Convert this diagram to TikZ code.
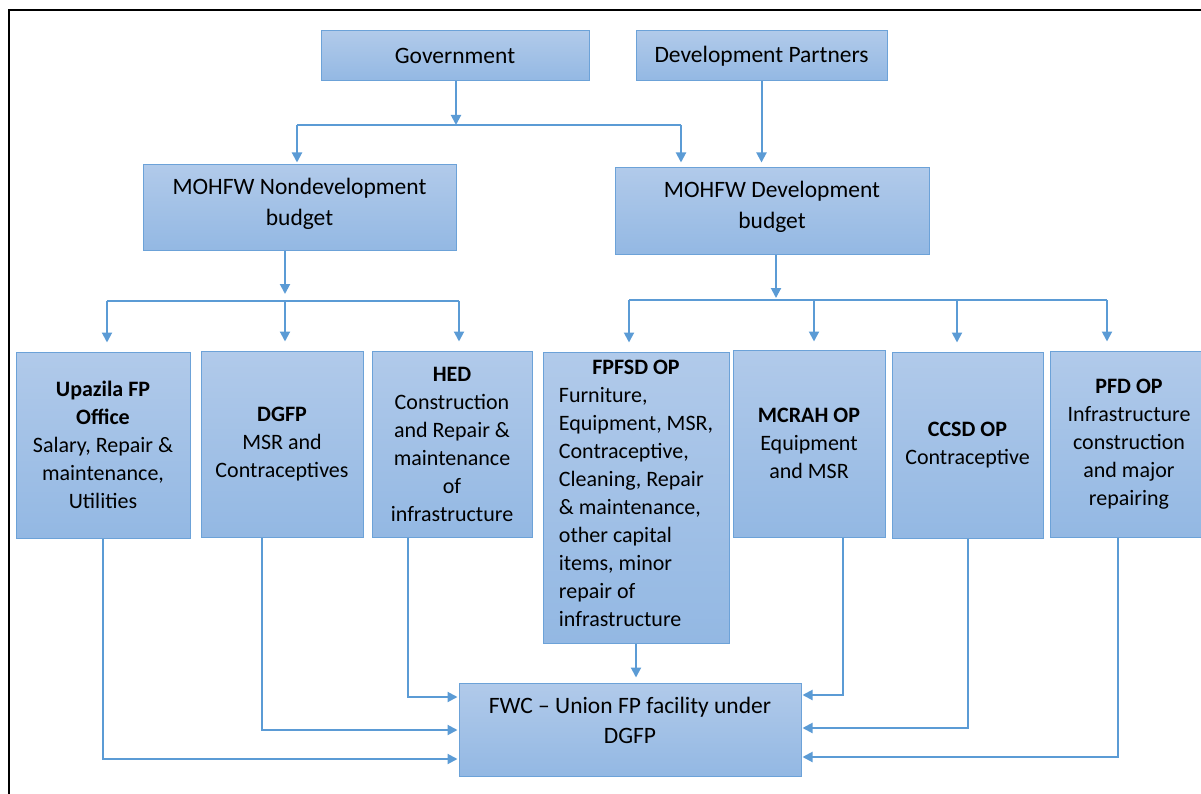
\documentclass[tikz,border=0pt]{standalone}
\usepackage{fontspec}
\setmainfont{Carlito}
\usepackage{tikz}
\usetikzlibrary{arrows.meta, calc}
\definecolor{boxtop}{RGB}{177, 202, 234}
\definecolor{boxbottom}{RGB}{147, 184, 227}
\definecolor{boxedge}{RGB}{108, 162, 216}
\definecolor{flowblue}{RGB}{91, 155, 213}

\tikzset{
    budgetbox/.style={draw=boxedge, line width=1pt, top color=boxtop, bottom color=boxbottom,
        inner sep=0pt, align=center, font=\fontsize{22}{28}\selectfont},
    bigtext/.style={font=\fontsize{23.5}{31}\selectfont},
    flow/.style={draw=flowblue, line width=2pt, -{Triangle[length=10pt, width=10pt]}},
    bus/.style={draw=flowblue, line width=2pt},
}

\begin{document}
\begin{tikzpicture}[x=1pt, y=-1pt]
    \useasboundingbox (0,0) rectangle (1201,794);
    % Frame
    \draw[line width=2.5pt] (9,800) -- (9,10) -- (1210,10);

    % Funding sources
    \node[budgetbox, bigtext, minimum width=268pt, minimum height=50pt] (gov) at (455,56) {Government};
    \node[budgetbox, bigtext, minimum width=251pt, minimum height=50pt] (dp) at (761.5,56) {Development Partners};

    % Ministry budgets
    \node[budgetbox, bigtext, minimum width=313pt, minimum height=86pt, text depth=12pt]
        (nondev) at (299.5,208) {MOHFW Nondevelopment\\budget};
    \node[budgetbox, bigtext, minimum width=314pt, minimum height=87pt, text depth=13pt]
        (dev) at (772,211.5) {MOHFW Development\\budget};

    % Spending units
    \node[budgetbox, minimum width=174pt, minimum height=186pt] (upa) at (103,445)
        {\textbf{Upazila FP}\\\textbf{Office}\\Salary, Repair \&\\maintenance,\\Utilities};
    \node[budgetbox, minimum width=162pt, minimum height=186pt] (dgfp) at (282,444)
        {\textbf{DGFP}\\MSR and\\Contraceptives};
    \node[budgetbox, minimum width=160pt, minimum height=186pt] (hed) at (452,444)
        {\textbf{HED}\\Construction\\and Repair \&\\maintenance\\of\\infrastructure};
    \node[budgetbox, minimum width=186pt, minimum height=291pt] (fpfsd) at (636,497.5)
        {\textbf{FPFSD OP}\\\begin{tabular}[t]{@{}l@{}}Furniture,\\Equipment, MSR,\\Contraceptive,\\Cleaning, Repair\\\& maintenance,\\other capital\\items, minor\\repair of\\infrastructure\end{tabular}};
    \node[budgetbox, minimum width=152pt, minimum height=187pt] (mcrah) at (809,443.5)
        {\textbf{MCRAH OP}\\Equipment\\and MSR};
    \node[budgetbox, minimum width=151pt, minimum height=186pt] (ccsd) at (967.5,445)
        {\textbf{CCSD OP}\\Contraceptive};
    \node[budgetbox, minimum width=158pt, minimum height=186pt] (pfd) at (1129,444)
        {\textbf{PFD OP}\\Infrastructure\\construction\\and major\\repairing};

    % Facility
    \node[budgetbox, minimum width=342pt, minimum height=93pt, font=\fontsize{23.5}{30}\selectfont, text depth=19pt]
        (fwc) at (630,729.5) {FWC -- Union FP facility under\\DGFP};

    % Branch points
    \coordinate (gsplit) at (456,125);
    \coordinate (gleft) at (297,125);
    \coordinate (gright) at (681,125);
    \coordinate (nsplit) at (285,301);
    \coordinate (nleft) at (107,301);
    \coordinate (nright) at (459,301);
    \coordinate (dsplit) at (776,300);
    \coordinate (dleft) at (629,300);
    \coordinate (dmidA) at (814,300);
    \coordinate (dmidB) at (957,300);
    \coordinate (dright) at (1107,300);

    % Sources to budgets
    \draw[flow] (gsplit |- gov.south) -- (gsplit);
    \draw[bus] (gleft) -- (gright);
    \draw[flow, shorten >=2pt] (gleft) -- (gleft |- nondev.north);
    \draw[flow, shorten >=5pt] (gright) -- (gright |- dev.north);
    \draw[flow, shorten >=5pt] (dp.south) -- (dp.south |- dev.north);

    % Nondevelopment budget to units
    \draw[flow, shorten >=7pt] (nsplit |- nondev.south) -- (nsplit);
    \draw[bus] (nleft) -- (nright);
    \draw[flow, shorten >=9pt] (nleft) -- (nleft |- upa.north);
    \draw[flow, shorten >=9pt] (nsplit) -- (nsplit |- dgfp.north);
    \draw[flow, shorten >=9pt] (nright) -- (nright |- hed.north);

    % Development budget to units
    \draw[flow, shorten >=2pt] (dsplit |- dev.south) -- (dsplit);
    \draw[bus] (dleft) -- (dright);
    \draw[flow, shorten >=9pt] (dleft) -- (dleft |- fpfsd.north);
    \draw[flow, shorten >=8pt] (dmidA) -- (dmidA |- mcrah.north);
    \draw[flow, shorten >=9pt] (dmidB) -- (dmidB |- ccsd.north);
    \draw[flow, shorten >=9pt] (dright) -- (dright |- pfd.north);

    % Units to facility
    \coordinate (upaturn) at (103,759);
    \coordinate (dgfpturn) at (262,730);
    \coordinate (hedturn) at (408,697);
    \coordinate (mcrahturn) at (843,695);
    \coordinate (ccsdturn) at (968,728);
    \coordinate (pfdturn) at (1118,757);
    \draw[flow, shorten >=1pt] (upa.south -| upaturn) -- (upaturn) -- (upaturn -| fwc.west);
    \draw[flow, shorten >=1pt] (dgfp.south -| dgfpturn) -- (dgfpturn) -- (dgfpturn -| fwc.west);
    \draw[flow, shorten >=1pt] (hed.south -| hedturn) -- (hedturn) -- (hedturn -| fwc.west);
    \draw[flow, shorten >=5pt] (fpfsd.south) -- (fpfsd.south |- fwc.north);
    \draw[flow, shorten >=1pt] (mcrah.south -| mcrahturn) -- (mcrahturn) -- (mcrahturn -| fwc.east);
    \draw[flow, shorten >=1pt] (ccsd.south -| ccsdturn) -- (ccsdturn) -- (ccsdturn -| fwc.east);
    \draw[flow, shorten >=1pt] (pfd.south -| pfdturn) -- (pfdturn) -- (pfdturn -| fwc.east);
\end{tikzpicture}
\end{document}
